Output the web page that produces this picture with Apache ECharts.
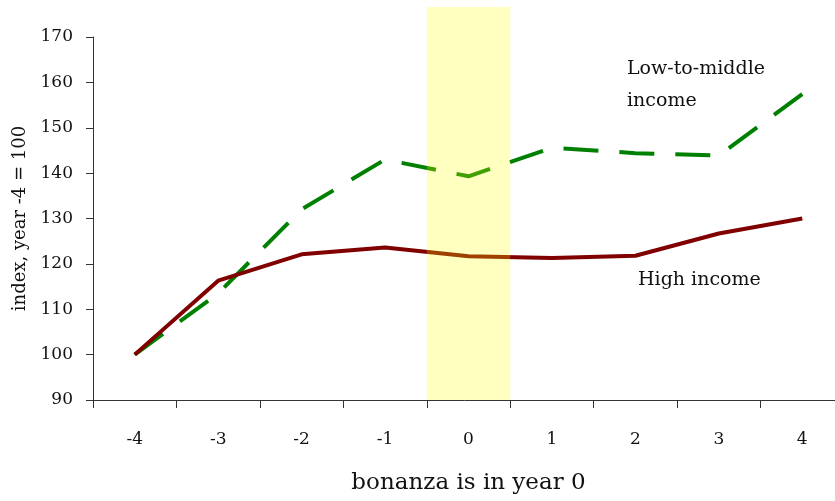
<!DOCTYPE html>
<html>
<head>
<meta charset="utf-8">
<script src="https://cdn.jsdelivr.net/npm/echarts@6/dist/echarts.min.js"></script>
<style>
    html, body { margin: 0; padding: 0; background: #fff; }
    #chart { width: 835px; height: 501px; }
</style>
</head>
<body>
<div id="chart"></div>
<script>
// years relative to the bonanza
const years = ['-4', '-3', '-2', '-1', '0', '1', '2', '3', '4']
// index, year -4 = 100
const lowMiddle = [100, 113.5, 132, 143, 139.3, 145.6, 144.4, 143.9, 157.4]
const highIncome = [100, 116.3, 122.1, 123.6, 121.7, 121.3, 121.8, 126.7, 130]
// shaded bonanza year (base + height of the band)
const bandBase = [null, null, null, null, 90, null, null, null, null]
const bandTop = [null, null, null, null, 86.6, null, null, null, null]

const serif = '"DejaVu Serif", serif'
const myChart = echarts.init(document.getElementById('chart'))

const options = {
    animation: false,
    grid: {
        left: 93,
        top: 37,
        width: 751,
        height: 363,
        outerBoundsMode: 'none'
    },
    xAxis: {
        type: 'category',
        data: years,
        boundaryGap: true,
        name: 'bonanza is in year 0',
        nameLocation: 'middle',
        nameGap: 72,
        nameTextStyle: { fontFamily: serif, fontSize: 23, color: '#111' },
        axisLine: { lineStyle: { color: '#333', width: 1 } },
        axisTick: { show: true, interval: 0, length: 8, lineStyle: { color: '#333' } },
        axisLabel: { margin: 31, fontFamily: serif, fontSize: 17, color: '#111' },
        splitLine: { show: false }
    },
    yAxis: {
        type: 'value',
        min: 90,
        max: 170,
        interval: 10,
        name: 'index, year -4 = 100',
        nameLocation: 'middle',
        nameGap: 61,
        nameTextStyle: { fontFamily: serif, fontSize: 18, color: '#111' },
        axisLine: { show: true, lineStyle: { color: '#333', width: 1 } },
        axisTick: { show: true, length: 7, lineStyle: { color: '#333' } },
        axisLabel: { margin: 20, fontFamily: serif, fontSize: 17, color: '#111' },
        splitLine: { show: false }
    },
    series: [
        {
            name: 'Low-to-middle income',
            type: 'line',
            data: lowMiddle,
            showSymbol: false,
            z: 2,
            lineStyle: { color: '#008000', width: 4, type: [35, 21], cap: 'butt' }
        },
        {
            name: 'High income',
            type: 'line',
            data: highIncome,
            showSymbol: false,
            z: 3,
            lineStyle: { color: '#800000', width: 4 }
        },
        {
            // invisible base so the band starts at the axis
            type: 'bar',
            stack: 'band',
            data: bandBase,
            barWidth: '100%',
            clip: true,
            itemStyle: { color: 'rgba(0,0,0,0)' },
            z: 4
        },
        {
            type: 'bar',
            stack: 'band',
            data: bandTop,
            barWidth: '100%',
            clip: false,
            itemStyle: { color: 'rgba(255,255,0,0.25)' },
            z: 4
        }
    ],
    graphic: [
        {
            type: 'text',
            left: 627,
            top: 53,
            style: {
                text: 'Low-to-middle\nincome',
                font: '19px ' + serif,
                fill: '#111',
                align: 'center',
                lineHeight: 32
            }
        },
        {
            type: 'text',
            left: 638,
            top: 271,
            style: {
                text: 'High income',
                font: '19px ' + serif,
                fill: '#111'
            }
        }
    ]
}
myChart.setOption(options)
</script>
</body>
</html>
